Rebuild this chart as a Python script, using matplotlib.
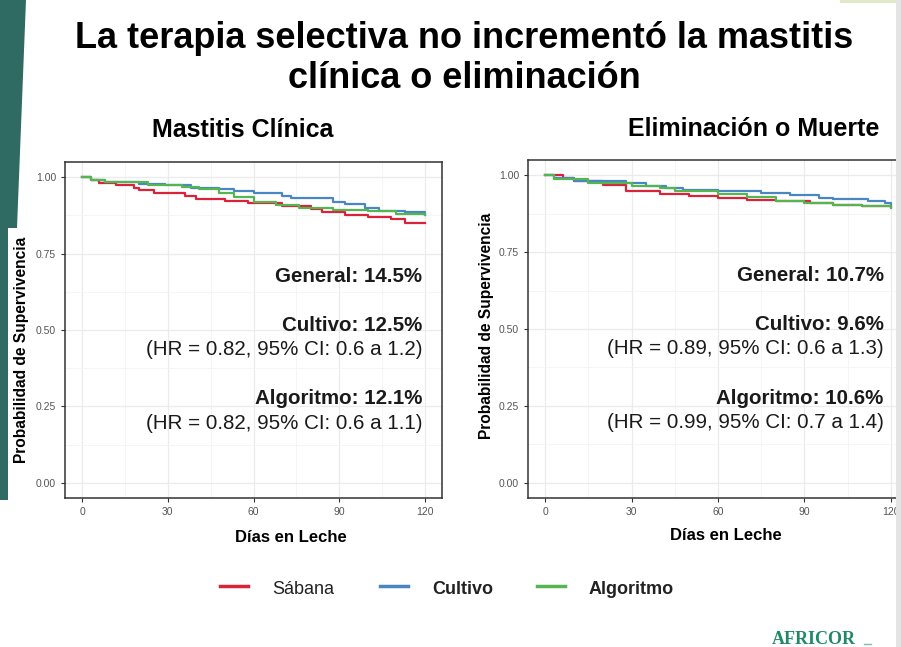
import matplotlib.pyplot as plt
from matplotlib.patches import Polygon, Rectangle

plt.rcParams['font.family'] = ['Liberation Sans', 'DejaVu Sans']

# step points (day, survival)
mc_days_sab = [0, 3, 6, 12, 18, 20, 25, 36, 40, 50, 58, 70, 80, 84, 92, 100, 108, 113, 120]
mc_surv_sab = [1.0, 0.99, 0.982, 0.975, 0.966, 0.957, 0.948, 0.938, 0.930, 0.922, 0.915, 0.905, 0.895, 0.886, 0.878, 0.870, 0.864, 0.851, 0.849]
mc_days_cul = [0, 3, 8, 20, 29, 38, 48, 53, 60, 70, 73, 88, 92, 99, 104, 113, 120]
mc_surv_cul = [1.0, 0.99, 0.986, 0.978, 0.974, 0.966, 0.960, 0.955, 0.947, 0.940, 0.931, 0.918, 0.912, 0.898, 0.890, 0.887, 0.876]
mc_days_alg = [0, 3, 8, 23, 35, 41, 48, 53, 60, 68, 76, 88, 100, 110, 120]
mc_surv_alg = [1.0, 0.99, 0.985, 0.976, 0.968, 0.960, 0.948, 0.935, 0.918, 0.910, 0.900, 0.894, 0.888, 0.880, 0.876]

el_days_sab = [0, 6, 10, 20, 28, 40, 50, 60, 70, 80, 92, 100, 110, 120]
el_surv_sab = [1.0, 0.99, 0.982, 0.970, 0.950, 0.938, 0.932, 0.927, 0.920, 0.915, 0.910, 0.905, 0.900, 0.898]
el_days_cul = [0, 3, 10, 28, 35, 42, 48, 60, 75, 85, 95, 100, 112, 118, 120]
el_surv_cul = [1.0, 0.99, 0.982, 0.976, 0.966, 0.960, 0.953, 0.949, 0.944, 0.935, 0.927, 0.922, 0.917, 0.910, 0.903]
el_days_alg = [0, 3, 15, 30, 40, 45, 60, 70, 80, 90, 100, 110, 120]
el_surv_alg = [1.0, 0.988, 0.976, 0.965, 0.958, 0.950, 0.938, 0.928, 0.916, 0.910, 0.905, 0.900, 0.894]

x_ticks = [0, 30, 60, 90, 120]
y_ticks = [0.0, 0.25, 0.5, 0.75, 1.0]
y_tick_labels = ['0.00', '0.25', '0.50', '0.75', '1.00']

mc_notes = ['General: 14.5%', 'Cultivo: 12.5%', '(HR = 0.82, 95% CI: 0.6 a 1.2)',
            'Algoritmo: 12.1%', '(HR = 0.82, 95% CI: 0.6 a 1.1)']
el_notes = ['General: 10.7%', 'Cultivo: 9.6%', '(HR = 0.89, 95% CI: 0.6 a 1.3)',
            'Algoritmo: 10.6%', '(HR = 0.99, 95% CI: 0.7 a 1.4)']

groups = ['Sábana', 'Cultivo', 'Algoritmo']
colors = ['#d9233b', '#4a86c2', '#55b651']

W, H = 901, 647
fig = plt.figure(figsize=(W / 100, H / 100), dpi=100)
fig.patch.set_facecolor('white')


def fx(px):
    return px / W


def fy(py):
    return 1 - py / H


# teal side strip and the slide edges
fig.patches.append(Polygon([[0, 1], [fx(26), 1], [fx(17), fy(228)], [fx(8), fy(228)],
                            [fx(8), fy(500)], [0, fy(500)]],
                           closed=True, transform=fig.transFigure, facecolor='#2f6b63', edgecolor='none'))
fig.patches.append(Rectangle((fx(840), fy(3)), fx(61), 3 / H, transform=fig.transFigure,
                             facecolor='#dfe9c8', edgecolor='none'))

fig.text(fx(464), fy(38), 'La terapia selectiva no incrementó la mastitis', ha='center', va='center',
         fontsize=26, fontweight='bold')
fig.text(fx(464), fy(78), 'clínica o eliminación', ha='center', va='center',
         fontsize=26, fontweight='bold')


def draw_panel(ax, curves, notes, note_x):
    for (d, s), c in zip(curves, colors):
        ax.plot(d, s, drawstyle='steps-post', color=c, lw=1.6)
    ax.set_xlim(-6, 126)
    ax.set_ylim(-0.05, 1.05)
    ax.set_xticks(x_ticks)
    ax.set_xticks([15, 45, 75, 105], minor=True)
    ax.set_yticks(y_ticks)
    ax.set_yticklabels(y_tick_labels)
    ax.set_yticks([0.125, 0.375, 0.625, 0.875], minor=True)
    ax.grid(True, which='major', color='#ebebeb', lw=0.9)
    ax.grid(True, which='minor', color='#f4f4f4', lw=0.6)
    ax.set_axisbelow(True)
    ax.tick_params(which='major', labelsize=7.5, labelcolor='#555555', color='#333333', length=3, width=0.8)
    ax.tick_params(which='minor', length=0)
    for sp in ax.spines.values():
        sp.set_color('#333333')
        sp.set_linewidth(1.1)
    ys = [0.675, 0.515, 0.437, 0.275, 0.195]
    weights = ['bold', 'bold', 'normal', 'bold', 'normal']
    for t, y, w in zip(notes, ys, weights):
        ax.text(note_x, y, t, ha='right', va='center', fontsize=14.8, fontweight=w, color='#1a1a1a')


ax1 = fig.add_axes([fx(65), fy(498), 377 / W, 336 / H])
draw_panel(ax1, [(mc_days_sab, mc_surv_sab), (mc_days_cul, mc_surv_cul), (mc_days_alg, mc_surv_alg)],
           mc_notes, 119)

ax2 = fig.add_axes([fx(528), fy(498), 380 / W, 338 / H])
draw_panel(ax2, [(el_days_sab, el_surv_sab), (el_days_cul, el_surv_cul), (el_days_alg, el_surv_alg)],
           el_notes, 117.5)
ax2.spines['right'].set_visible(False)

# panel titles and axis labels
fig.text(fx(243), fy(130), 'Mastitis Clínica', ha='center', va='center', fontsize=18, fontweight='bold')
fig.text(fx(754), fy(129), 'Eliminación o Muerte', ha='center', va='center', fontsize=18, fontweight='bold')
fig.text(fx(291), fy(537), 'Días en Leche', ha='center', va='center', fontsize=12, fontweight='bold')
fig.text(fx(726), fy(536), 'Días en Leche', ha='center', va='center', fontsize=12, fontweight='bold')
fig.text(fx(22), fy(350), 'Probabilidad de Supervivencia', ha='center', va='center', rotation=90,
         fontsize=11.2, fontweight='bold')
fig.text(fx(487), fy(326), 'Probabilidad de Supervivencia', ha='center', va='center', rotation=90,
         fontsize=11.2, fontweight='bold')

# legend drawn by hand
leg_x = [220, 380, 537]
for x, g, c in zip(leg_x, groups, colors):
    fig.add_artist(plt.Line2D([fx(x), fx(x + 28)], [fy(586)] * 2, color=c, lw=2.5,
                              transform=fig.transFigure))
    fig.text(fx(x + 52), fy(589), g, ha='left', va='center', fontsize=13,
             fontweight='normal' if g == 'Sábana' else 'bold', color='#222222')

fig.text(fx(772), fy(640), 'AFRICOR', ha='left', va='center', fontsize=13, fontweight='bold',
         family='Liberation Serif', color='#1f8a66')
fig.add_artist(plt.Line2D([fx(864), fx(871)], [fy(644)] * 2, color='#7fbfae', lw=1,
                          transform=fig.transFigure))

# grey slide edge on the right
fig.patches.append(Rectangle((fx(896), 0), fx(5), 1, transform=fig.transFigure,
                             facecolor='#e4e4e4', edgecolor='none', zorder=5))

fig.savefig('out.png', dpi=100)
